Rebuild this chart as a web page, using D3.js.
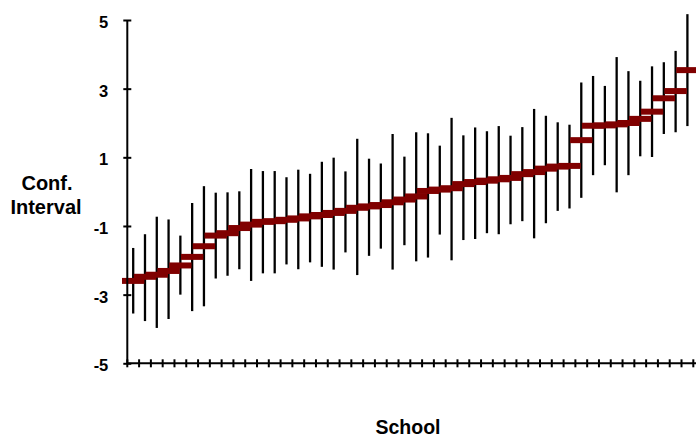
<!DOCTYPE html>
<html>
<head>
<meta charset="utf-8">
<script src="https://cdn.jsdelivr.net/npm/d3@7"></script>
<style>
  html, body { margin: 0; padding: 0; background: #fff; }
  svg { display: block; font-family: "Liberation Sans", Arial, sans-serif; }
</style>
</head>
<body>
<svg id="chart"></svg>
<script>
// one entry per school, sorted by estimate
const schools = d3.range(1, 49);

const estimates = [
  -2.60, -2.48, -2.42, -2.31, -2.15, -1.90, -1.59, -1.28, -1.21, -1.06,
  -0.96, -0.88, -0.86, -0.82, -0.78, -0.72, -0.68, -0.62, -0.56, -0.47,
  -0.43, -0.39, -0.31, -0.23, -0.14, 0.02, 0.06, 0.10, 0.22, 0.28,
  0.32, 0.36, 0.40, 0.51, 0.57, 0.67, 0.73, 0.75, 1.50, 1.92,
  1.93, 1.96, 2.00, 2.12, 2.33, 2.72, 2.93, 3.54
];

const lower = [
  -3.55, -3.77, -3.97, -3.71, -3.00, -3.48, -3.34, -2.53, -2.45, -2.26,
  -2.60, -2.38, -2.38, -2.12, -2.26, -2.06, -2.19, -2.27, -1.77, -2.43,
  -1.87, -1.66, -2.27, -1.56, -2.03, -1.92, -1.25, -2.00, -1.41, -1.38,
  -1.21, -1.24, -0.95, -0.86, -1.36, -0.92, -0.56, -0.49, -0.18, 0.48,
  0.77, -0.02, 0.48, 1.03, 1.01, 1.68, 1.73, 1.91
];

const upper = [
  -1.64, -1.24, -0.73, -0.81, -1.28, -0.33, 0.16, -0.03, -0.02, 0.01,
  0.66, 0.60, 0.60, 0.42, 0.64, 0.52, 0.87, 0.99, 0.59, 1.54,
  0.96, 0.82, 1.68, 1.02, 1.73, 1.70, 1.34, 2.15, 1.64, 1.87,
  1.76, 1.91, 1.63, 1.88, 2.41, 2.21, 2.02, 1.95, 3.18, 3.37,
  3.08, 3.92, 3.51, 3.23, 3.65, 3.77, 4.10, 5.17
];

const yTicks = [-5, -3, -1, 1, 3, 5];

const width = 696;
const height = 439;

const svg = d3.select('#chart')
  .attr('width', width)
  .attr('height', height)
  .attr('viewBox', [0, 0, width, height]);

const x = d3.scaleBand()
  .domain(schools)
  .range([127.3, 693.3])
  .padding(0);

const y = d3.scaleLinear()
  .domain([-5, 5])
  .range([363.3, 20]);

const data = schools.map((s, i) => ({ school: s, est: estimates[i], lo: lower[i], hi: upper[i] }));

// interval lines
svg.append('g')
  .selectAll('line')
  .data(data)
  .join('line')
    .attr('x1', d => x(d.school) + x.bandwidth() / 2)
    .attr('x2', d => x(d.school) + x.bandwidth() / 2)
    .attr('y1', d => y(d.lo))
    .attr('y2', d => y(d.hi))
    .attr('stroke', '#000')
    .attr('stroke-width', 2.3);

// point estimates as dash markers
const dashW = x.bandwidth() * 1.9;
svg.append('g')
  .selectAll('rect')
  .data(data)
  .join('rect')
    .attr('x', d => x(d.school) + x.bandwidth() / 2 - dashW / 2)
    .attr('y', d => y(d.est) - 3)
    .attr('width', dashW)
    .attr('height', 6)
    .attr('fill', '#800000');

// y axis
const yAxis = svg.append('g')
  .attr('transform', `translate(${x.range()[0]},0)`)
  .call(d3.axisLeft(y).tickValues(yTicks).tickSize(4).tickPadding(15).tickFormat(d => String(d)));

yAxis.select('.domain')
  .attr('d', `M0,${y(5)}V${y(-5)}`)
  .attr('stroke', '#000')
  .attr('stroke-width', 2);
yAxis.selectAll('.tick line')
  .attr('x1', 4)
  .attr('stroke-width', 2);
yAxis.selectAll('.tick text')
  .attr('font-size', 16.5)
  .attr('font-weight', 'bold')
  .attr('fill', '#000')
  .attr('dy', '0.45em')
  .attr('font-family', '"Liberation Sans", Arial, sans-serif');

// x axis, ticks on category boundaries
const xAxis = svg.append('g')
  .attr('transform', `translate(0,${y(-5)})`);

xAxis.append('line')
  .attr('x1', x.range()[0])
  .attr('x2', width)
  .attr('stroke', '#000')
  .attr('stroke-width', 2);

const boundaries = schools.map(s => x(s)).concat([x.range()[1]]);
xAxis.selectAll('line.tick')
  .data(boundaries)
  .join('line')
    .attr('class', 'tick')
    .attr('x1', d => d)
    .attr('x2', d => d)
    .attr('y1', -4)
    .attr('y2', 4)
    .attr('stroke', '#000')
    .attr('stroke-width', 2);

// axis titles
const yTitle = svg.append('text')
  .attr('text-anchor', 'middle')
  .attr('font-size', 20)
  .attr('font-weight', 'bold');
yTitle.append('tspan').attr('x', 47).attr('y', 190).text('Conf.');
yTitle.append('tspan').attr('x', 46).attr('y', 214).text('Interval');

svg.append('text')
  .attr('x', 408)
  .attr('y', 434)
  .attr('text-anchor', 'middle')
  .attr('font-size', 19.5)
  .attr('font-weight', 'bold')
  .text('School');
</script>
</body>
</html>
